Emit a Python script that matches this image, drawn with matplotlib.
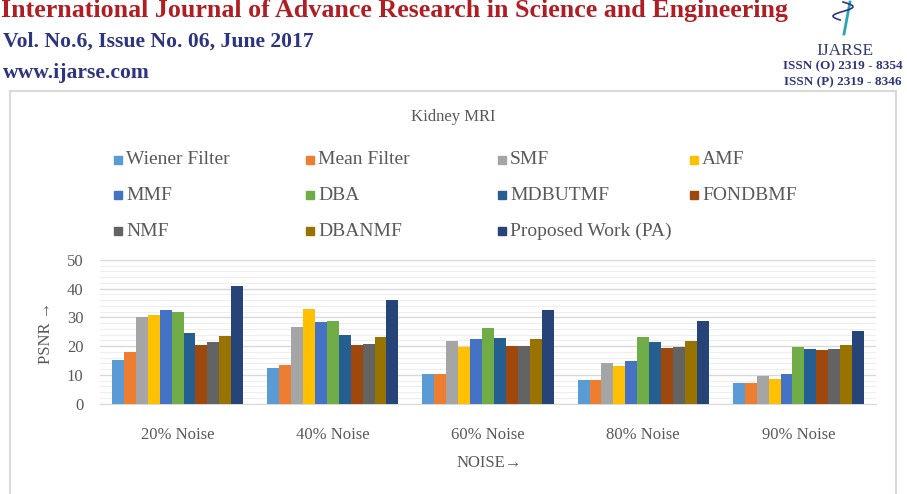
import numpy as np
import matplotlib
matplotlib.use("Agg")
import matplotlib.pyplot as plt
from matplotlib.patches import Rectangle

# Datos
categorias = ["20% Noise", "40% Noise", "60% Noise", "80% Noise", "90% Noise"]
metodos = ["Wiener Filter", "Mean Filter", "SMF", "AMF", "MMF", "DBA",
           "MDBUTMF", "FONDBMF", "NMF", "DBANMF", "Proposed Work (PA)"]
colores = ["#5B9BD5", "#ED7D31", "#A5A5A5", "#FFC000", "#4472C4", "#70AD47",
           "#255E91", "#9E480E", "#636363", "#997300", "#264478"]

wiener = [15.1, 12.3, 10.2, 8.1, 7.1]
mean_f = [17.9, 13.4, 10.2, 8.1, 7.1]
smf = [30.1, 26.6, 21.7, 14.1, 9.5]
amf = [30.8, 32.9, 19.7, 13.0, 8.5]
mmf = [32.6, 28.4, 22.4, 14.8, 10.2]
dba = [31.9, 28.7, 26.3, 23.1, 19.7]
mdbutmf = [24.5, 23.8, 22.8, 21.4, 19.0]
fondbmf = [20.3, 20.3, 20.0, 19.3, 18.6]
nmf = [21.4, 20.7, 20.0, 19.7, 19.0]
dbanmf = [23.5, 23.1, 22.4, 21.7, 20.3]
propuesto = [41.0, 36.0, 32.6, 28.7, 25.2]

series = [wiener, mean_f, smf, amf, mmf, dba, mdbutmf, fondbmf, nmf, dbanmf, propuesto]

W, H = 907, 494
gris = "#595959"
serif = ["Liberation Serif", "DejaVu Serif"]


def fx(x):
    return x / W


def fy(y):
    return 1 - y / H


fig = plt.figure(figsize=(W / 100, H / 100), dpi=100)
fig.patch.set_facecolor("white")

# Encabezado de la revista
fig.text(fx(1), fy(17), "International Journal of Advance Research in Science and Engineering",
         family=serif, weight="bold", fontsize=18.7, color="#B01E23", va="baseline")
fig.text(fx(3), fy(47), "Vol. No.6, Issue No. 06, June 2017",
         family=serif, weight="bold", fontsize=15.6, color="#2E3580", va="baseline")
fig.text(fx(3), fy(78), "www.ijarse.com",
         family=serif, weight="bold", fontsize=15.6, color="#2E3580", va="baseline")
fig.text(fx(845), fy(55), "IJARSE", family=serif, fontsize=12.5, color="#2E3A6E",
         ha="center", va="baseline")
fig.text(fx(843), fy(69), "ISSN (O) 2319 - 8354", family=serif, weight="bold",
         fontsize=9.5, color="#2E3580", ha="center", va="baseline")
fig.text(fx(843), fy(85), "ISSN (P) 2319 - 8346", family=serif, weight="bold",
         fontsize=9.5, color="#2E3580", ha="center", va="baseline")

# Logo simple
t = np.linspace(0, 1, 50)
fig.add_artist(plt.Line2D(fx(850 - 6 * t), fy(2 + 32 * t), color="#2AA5B8", lw=2))
fig.add_artist(plt.Line2D(fx(843 + 10 * np.sin(6 * t)), fy(2 + 18 * t), color="#2E3580", lw=1.2))

# Marco del grafico
fig.add_artist(Rectangle((fx(10), fy(500)), fx(886), 409 / H, transform=fig.transFigure,
                         fill=False, edgecolor="#D9D9D9", lw=1.5))

fig.text(fx(453), fy(117), "Kidney MRI", family=serif, fontsize=12, color=gris,
         ha="center", va="center")

# Leyenda manual (orden por filas)
for i, (nombre, c) in enumerate(zip(metodos, colores)):
    fila, col = divmod(i, 4)
    x0 = 118 + 192 * col
    y0 = 160 + 35.5 * fila
    fig.add_artist(Rectangle((fx(x0 - 4), fy(y0 + 4)), 8 / W, 8 / H,
                             transform=fig.transFigure, color=c))
    fig.text(fx(x0 + 8), fy(y0), nombre, family=serif, fontsize=14, color=gris, va="center")

# Area de barras
ax = fig.add_axes([fx(100), fy(403.5), 776 / W, 143.5 / H])
n = len(series)
x = np.arange(len(categorias))
ancho = 0.845 / n
for k, (vals, c) in enumerate(zip(series, colores)):
    ax.bar(x + (k - (n - 1) / 2) * ancho, vals, ancho, color=c, zorder=3)

ax.set_xlim(-0.5, len(categorias) - 0.5)
ax.set_ylim(0, 50)
ax.set_yticks(np.arange(0, 51, 10))
ax.set_yticks(np.arange(0, 51, 2), minor=True)
ax.set_xticks(x)
ax.set_xticklabels(categorias)
ax.grid(axis="y", which="major", color="#D9D9D9", lw=1, zorder=0)
ax.grid(axis="y", which="minor", color="#EEEEEE", lw=0.8, zorder=0)
for s in ["top", "right", "left"]:
    ax.spines[s].set_visible(False)
ax.spines["bottom"].set_color("#D9D9D9")
ax.tick_params(which="both", length=0)
ax.tick_params(axis="x", pad=17)
ax.tick_params(axis="y", pad=12)
for lab in ax.get_xticklabels() + ax.get_yticklabels():
    lab.set_family(serif)
    lab.set_fontsize(12)
    lab.set_color(gris)

fig.text(fx(46), fy(333), "PSNR \u2192", family=serif, fontsize=12, color=gris,
         rotation=90, ha="center", va="center")
fig.text(fx(489), fy(463), "NOISE\u2192", family=serif, fontsize=12, color=gris,
         ha="center", va="center")

fig.savefig("out.png", dpi=100)
